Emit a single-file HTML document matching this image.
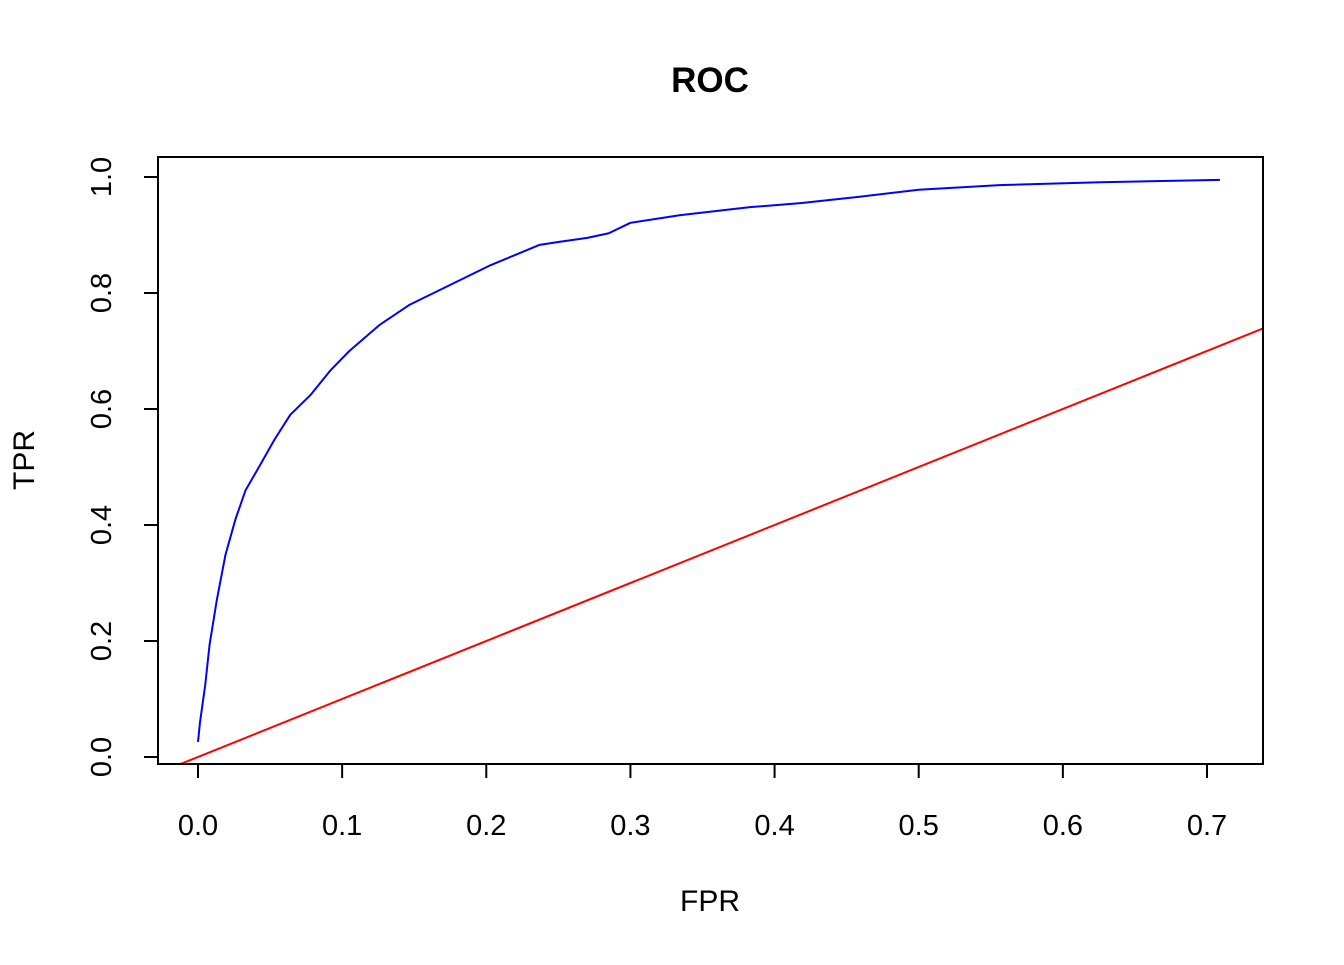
<!DOCTYPE html>
<html><head><meta charset="utf-8"><style>
body{margin:0;background:#fff;}
svg text{font-family:"Liberation Sans",Arial,sans-serif;}
</style></head><body>
<svg id="chart" width="1344" height="960" xmlns="http://www.w3.org/2000/svg">
<rect width="1344" height="960" fill="#fff"/>
<text x="710" y="92" text-anchor="middle" font-size="35" font-weight="bold">ROC</text>
<text x="710" y="911" text-anchor="middle" font-size="30">FPR</text>
<text transform="translate(34,460) rotate(-90)" text-anchor="middle" font-size="30">TPR</text>
<g id="axes"></g>
<g id="marks"></g>
<rect x="158" y="157" width="1105" height="607" fill="none" stroke="#000" stroke-width="2"/>
</svg>
<script>
const xTicks=[0,0.1,0.2,0.3,0.4,0.5,0.6,0.7];
const xTickLabels=["0.0","0.1","0.2","0.3","0.4","0.5","0.6","0.7"];
const yTicks=[0,0.2,0.4,0.6,0.8,1.0];
const yTickLabels=["0.0","0.2","0.4","0.6","0.8","1.0"];
const fpr=[0,0.0014,0.005,0.008,0.013,0.019,0.026,0.033,0.043,0.053,0.064,0.078,0.092,0.105,0.126,0.147,0.175,0.203,0.237,0.25,0.27,0.285,0.3,0.334,0.383,0.418,0.459,0.50,0.556,0.626,0.709];
const tpr=[0.026,0.06,0.124,0.193,0.27,0.348,0.41,0.46,0.503,0.547,0.59,0.624,0.667,0.70,0.745,0.78,0.814,0.848,0.883,0.888,0.895,0.903,0.921,0.934,0.948,0.955,0.966,0.978,0.986,0.991,0.995];
const diagX=[-0.012,0.74];
const NS="http://www.w3.org/2000/svg";
const X=v=>198+v*(1207-198)/0.7;
const Y=v=>757-v*580;
const axes=document.getElementById('axes'), marks=document.getElementById('marks');
function mk(tag,attrs,parent){const e=document.createElementNS(NS,tag);for(const k in attrs)e.setAttribute(k,attrs[k]);parent.appendChild(e);return e;}
xTicks.forEach((t,i)=>{
 const l=mk('line',{x1:X(t),x2:X(t),y1:764,y2:778,stroke:'#000','stroke-width':2},axes);
 
 
 const tx=mk('text',{x:X(t),y:835,'text-anchor':'middle','font-size':29},axes);
 tx.textContent=xTickLabels[i];
 
 
});
yTicks.forEach((t,i)=>{
 const l=mk('line',{x1:144,x2:158,y1:Y(t),y2:Y(t),stroke:'#000','stroke-width':2},axes);
 
 
 const tx=mk('text',{transform:`translate(111,${Y(t)}) rotate(-90)`,'text-anchor':'middle','font-size':29},axes);
 tx.textContent=yTickLabels[i];
 
 
});
const cp=mk('clipPath',{id:'clip'},marks);mk('rect',{x:158,y:157,width:1105,height:607},cp);
const d=mk('line',{x1:X(diagX[0]),y1:Y(diagX[0]),x2:X(diagX[1]),y2:Y(diagX[1]),stroke:'#f00','stroke-width':2,'clip-path':'url(#clip)'},marks);


const pts=fpr.map((f,i)=>X(f)+','+Y(tpr[i])).join(' ');
const c=mk('polyline',{points:pts,fill:'none',stroke:'#00f','stroke-width':2,'stroke-linejoin':'round'},marks);


</script>
</body></html>
